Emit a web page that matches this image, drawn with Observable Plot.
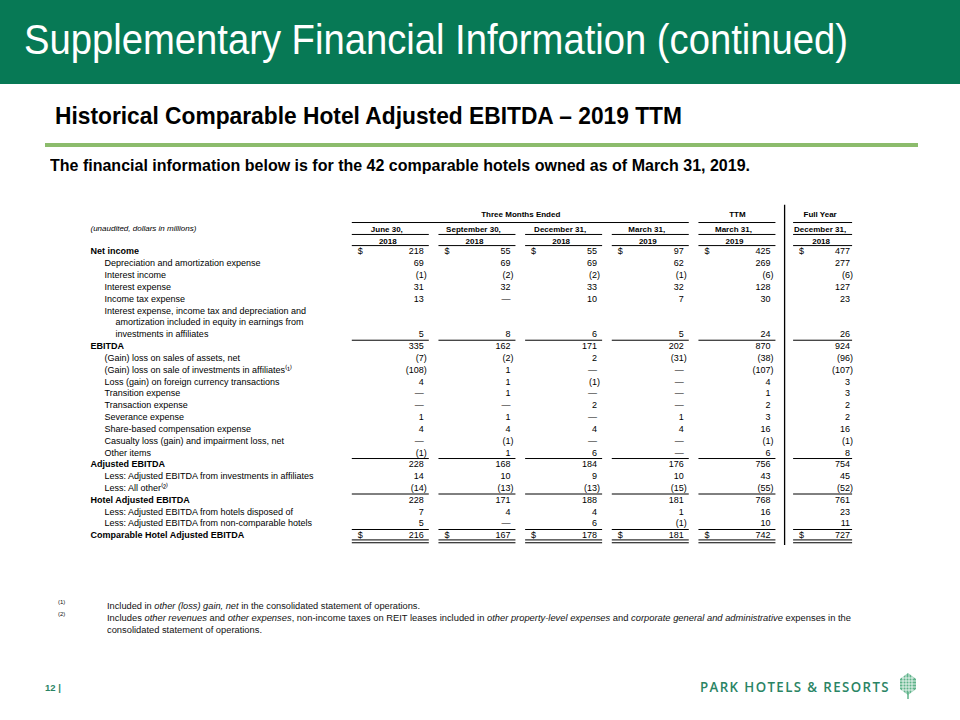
<!DOCTYPE html>
<html><head><meta charset="utf-8">
<script src="https://cdn.jsdelivr.net/npm/d3@7"></script>
<script src="https://cdn.jsdelivr.net/npm/@observablehq/plot@0.6"></script>
<style>
body{margin:0;width:960px;height:720px;position:relative;overflow:hidden;background:#fff;font-family:"Liberation Sans",Arial,sans-serif;color:#000;}
.abs{position:absolute;white-space:nowrap;transform-origin:0 50%;}
#band{left:0;top:0;width:960px;height:84px;background:#077955;}
#title{left:24px;top:16px;color:#fff;font-size:42px;line-height:48px;}
#subtitle{left:55px;top:102px;font-weight:bold;font-size:24px;line-height:28px;}
#rule{left:45px;top:143px;width:873px;height:4px;background:#8cbc6c;}
#desc{left:50px;top:156px;font-weight:bold;font-size:17px;line-height:20px;}
#chart{left:0;top:200px;}
.fn{font-size:8.5px;line-height:12px;color:#111;}
.fnm{font-size:6px;line-height:8px;color:#111;}
#page{left:45px;top:681px;font-size:9.5px;line-height:14px;font-weight:bold;color:#2a8464;}
#logo{left:700px;top:678px;font-family:"Open Sans","Liberation Sans",sans-serif;font-weight:600;font-size:14px;line-height:18px;color:#2a8464;letter-spacing:1.5px;}
#tree{left:898px;top:672px;}
</style></head>
<body>
<div id="band" class="abs"></div>
<div id="title" class="abs" data-w="824">Supplementary Financial Information (continued)</div>
<div id="subtitle" class="abs" data-w="627">Historical Comparable Hotel Adjusted EBITDA – 2019 TTM</div>
<div id="rule" class="abs"></div>
<div id="desc" class="abs" data-w="700">The financial information below is for the 42 comparable hotels owned as of March 31, 2019.</div>
<div id="chart" class="abs"></div>
<div class="abs fnm" style="left:58px;top:598px;">(1)</div>
<div class="abs fn" style="left:107px;top:600px;" data-w="313">Included in <i>other (loss) gain, net</i> in the consolidated statement of operations.</div>
<div class="abs fnm" style="left:58px;top:610px;">(2)</div>
<div class="abs fn" style="left:107px;top:612px;" data-w="744">Includes <i>other revenues</i> and <i>other expenses</i>, non-income taxes on REIT leases included in <i>other property-level expenses</i> and <i>corporate general and administrative</i> expenses in the</div>
<div class="abs fn" style="left:107px;top:624px;" data-w="155">consolidated statement of operations.</div>
<div id="page" class="abs">12 |</div>
<div id="logo" class="abs" data-w="190">PARK HOTELS &amp; RESORTS</div>
<svg id="tree" class="abs" width="20" height="28" viewBox="0 0 20 28">
  <polygon points="10,1 18,7 18,17 10,23 2,17 2,7" fill="#5fb38a"/>
  <g stroke="#fff" stroke-width="0.8">
    <line x1="2" y1="9" x2="18" y2="9"/><line x1="2" y1="12" x2="18" y2="12"/><line x1="2" y1="15" x2="18" y2="15"/><line x1="4" y1="6" x2="16" y2="6"/><line x1="4" y1="18" x2="16" y2="18"/>
    <line x1="5" y1="3" x2="5" y2="21"/><line x1="8" y1="1" x2="8" y2="23"/><line x1="11" y1="1" x2="11" y2="23"/><line x1="14" y1="3" x2="14" y2="21"/>
  </g>
  <line x1="10" y1="20" x2="10" y2="27" stroke="#5fb38a" stroke-width="1.5"/>
</svg>
<script>
// ---- data ----
const rowLabels = [
  "Net income",
  "Depreciation and amortization expense",
  "Interest income",
  "Interest expense",
  "Income tax expense",
  "Interest expense, income tax and depreciation and",
  "amortization included in equity in earnings from",
  "investments in affiliates",
  "EBITDA",
  "(Gain) loss on sales of assets, net",
  "(Gain) loss on sale of investments in affiliates⁽¹⁾",
  "Loss (gain) on foreign currency transactions",
  "Transition expense",
  "Transaction expense",
  "Severance expense",
  "Share-based compensation expense",
  "Casualty loss (gain) and impairment loss, net",
  "Other items",
  "Adjusted EBITDA",
  "Less: Adjusted EBITDA from investments in affiliates",
  "Less: All other⁽²⁾",
  "Hotel Adjusted EBITDA",
  "Less: Adjusted EBITDA from hotels disposed of",
  "Less: Adjusted EBITDA from non-comparable hotels",
  "Comparable Hotel Adjusted EBITDA"
];
const totalRows = ["Net income", "EBITDA", "Adjusted EBITDA", "Hotel Adjusted EBITDA", "Comparable Hotel Adjusted EBITDA"];
const wrappedRows = ["amortization included in equity in earnings from", "investments in affiliates"];
const labelOnlyRows = ["Interest expense, income tax and depreciation and", "amortization included in equity in earnings from"];
const dollarRows = ["Net income", "Comparable Hotel Adjusted EBITDA"];
const subtotalRows = ["EBITDA", "Adjusted EBITDA", "Hotel Adjusted EBITDA", "Comparable Hotel Adjusted EBITDA"];

const columns = ["June 30, 2018", "September 30, 2018", "December 31, 2018", "March 31, 2019", "TTM March 31, 2019", "Full Year December 31, 2018"];
const columnMonths = ["June 30,", "September 30,", "December 31,", "March 31,", "March 31,", "December 31,"];
const columnYears = ["2018", "2018", "2018", "2019", "2019", "2018"];
const groupLabels = ["Three Months Ended", "TTM", "Full Year"];
const unitsNote = "(unaudited, dollars in millions)";

const jun2018 = [218, 69, -1, 31, 13, 5, 335, -7, -108, 4, 0, 0, 1, 4, 0, -1, 228, 14, -14, 228, 7, 5, 216];
const sep2018 = [55, 69, -2, 32, 0, 8, 162, -2, 1, 1, 1, 0, 1, 4, -1, 1, 168, 10, -13, 171, 4, 0, 167];
const dec2018 = [55, 69, -2, 33, 10, 6, 171, 2, 0, -1, 0, 2, 0, 4, 0, 6, 184, 9, -13, 188, 4, 6, 178];
const mar2019 = [97, 62, -1, 32, 7, 5, 202, -31, 0, 0, 0, 0, 1, 4, 0, 0, 176, 10, -15, 181, 1, -1, 181];
const ttm2019 = [425, 269, -6, 128, 30, 24, 870, -38, -107, 4, 1, 2, 3, 16, -1, 6, 756, 43, -55, 768, 16, 10, 742];
const fy2018 = [477, 277, -6, 127, 23, 26, 924, -96, -107, 3, 3, 2, 2, 16, -1, 8, 754, 45, -52, 761, 23, 11, 727];
const columnValues = [jun2018, sep2018, dec2018, mar2019, ttm2019, fy2018];

// ---- derived tables ----
const valueRows = rowLabels.filter(r => !labelOnlyRows.includes(r));
const idx = r => rowLabels.indexOf(r);
const FY = columns[5];
const cells = columns.flatMap((c, ci) => columnValues[ci].map((v, ri) => ({col: c, row: valueRows[ri], v})));
const fmt = v => v === 0 ? "—" : v < 0 ? `(${-v})` : String(v);
const heads = columns.map((c, i) => ({col: c, month: columnMonths[i], year: columnYears[i]}));

// ---- layout ----
const step = 11.83, row0 = 51;
const hGroup = -3.12, hMonth = -1.86, hYear = -0.85;
const colStep = 86.66;
const fyInset = {insetLeft: 8, insetRight: 10};

const isFY = d => d.col === FY;
const notFY = d => d.col !== FY;
const numbers = (filter, dx) => Plot.text(cells.filter(filter), {x: "col", y: d => idx(d.row), text: d => fmt(d.v), textAnchor: "end", dx});
const lineCells = (rows) => cells.filter(d => rows.includes(d.row));

const chart = Plot.plot({
  width: 960, height: 360,
  marginTop: 0, marginBottom: 0, marginRight: 0, marginLeft: 90,
  style: {fontFamily: "'Liberation Sans', Arial, sans-serif", fontSize: "9px", color: "#000", background: "transparent", overflow: "visible"},
  x: {type: "band", domain: columns, range: [351.8, 862.1], paddingInner: 0.1115, paddingOuter: 0, round: false, axis: null},
  y: {type: "linear", domain: [-4, 26], range: [row0 - 4 * step, row0 + 26 * step], axis: null},
  marks: [
    // header texts
    Plot.text([groupLabels[0]], {x: () => columns[1], y: () => hGroup, text: d => d, dx: colStep / 2, fontWeight: "bold", fontSize: 8}),
    Plot.text([groupLabels[1]], {x: () => columns[4], y: () => hGroup, text: d => d, fontWeight: "bold", fontSize: 8}),
    Plot.text([groupLabels[2]], {x: () => FY, y: () => hGroup, text: d => d, dx: -4, fontWeight: "bold", fontSize: 8}),
    Plot.ruleY([groupLabels[0]], {x1: () => columns[0], x2: () => columns[3], y: () => hGroup + 0.67, stroke: "#000", strokeWidth: 1}),
    Plot.tickY([groupLabels[1]], {x: () => columns[4], y: () => hGroup + 0.67, stroke: "#000", strokeWidth: 1}),
    Plot.tickY([groupLabels[2]], {x: () => FY, y: () => hGroup + 0.67, stroke: "#000", strokeWidth: 1, ...fyInset}),
    Plot.text([unitsNote], {frameAnchor: "left", y: () => hMonth - 0.08, text: d => d, textAnchor: "start", fontStyle: "italic", fontSize: 8}),
    Plot.text(heads, {x: "col", y: () => hMonth, text: "month", dx: -4, fontWeight: "bold", fontSize: 8}),
    Plot.text(heads, {x: "col", y: () => hYear, text: "year", dx: -3, fontWeight: "bold", fontSize: 8}),
    Plot.tickY(heads.filter(notFY), {x: "col", y: () => hMonth + 0.42, stroke: "#000", strokeWidth: 1}),
    Plot.tickY(heads.filter(isFY), {x: "col", y: () => hMonth + 0.42, stroke: "#000", strokeWidth: 1, ...fyInset}),
    Plot.tickY(heads.filter(notFY), {x: "col", y: () => -0.5, stroke: "#000", strokeWidth: 1}),
    Plot.tickY(heads.filter(isFY), {x: "col", y: () => -0.5, stroke: "#000", strokeWidth: 1, ...fyInset}),
    // divider between TTM and full year
    Plot.ruleX([FY], {x: d => d, y1: () => -3.9, y2: () => 24.85, dx: -39.5, stroke: "#000", strokeWidth: 1.3}),
    // row labels
    Plot.text(rowLabels.filter(r => totalRows.includes(r)), {frameAnchor: "left", y: d => idx(d), text: d => d, textAnchor: "start", fontWeight: "bold"}),
    Plot.text(rowLabels.filter(r => !totalRows.includes(r) && !wrappedRows.includes(r)), {frameAnchor: "left", y: d => idx(d), text: d => d, textAnchor: "start", dx: 14}),
    Plot.text(wrappedRows, {frameAnchor: "left", y: d => idx(d), text: d => d, textAnchor: "start", dx: 25}),
    // values
    numbers(d => notFY(d) && d.v >= 0, 33),
    numbers(d => notFY(d) && d.v < 0, 36),
    numbers(d => isFY(d) && d.v >= 0, 26),
    numbers(d => isFY(d) && d.v < 0, 29),
    Plot.text(lineCells(dollarRows).filter(notFY), {x: "col", y: d => idx(d.row), text: () => "$", textAnchor: "start", dx: -33}),
    Plot.text(lineCells(dollarRows).filter(isFY), {x: "col", y: d => idx(d.row), text: () => "$", textAnchor: "start", dx: -25}),
    // subtotal rules
    Plot.tickY(lineCells(subtotalRows).filter(notFY), {x: "col", y: d => idx(d.row) - 0.5, stroke: "#000", strokeWidth: 1}),
    Plot.tickY(lineCells(subtotalRows).filter(isFY), {x: "col", y: d => idx(d.row) - 0.5, stroke: "#000", strokeWidth: 1, ...fyInset}),
    // double underline below final total
    Plot.tickY(lineCells([totalRows[4]]).filter(notFY), {x: "col", y: d => idx(d.row) + 0.38, stroke: "#000", strokeWidth: 1}),
    Plot.tickY(lineCells([totalRows[4]]).filter(isFY), {x: "col", y: d => idx(d.row) + 0.38, stroke: "#000", strokeWidth: 1, ...fyInset}),
    Plot.tickY(lineCells([totalRows[4]]).filter(notFY), {x: "col", y: d => idx(d.row) + 0.62, stroke: "#000", strokeWidth: 1}),
    Plot.tickY(lineCells([totalRows[4]]).filter(isFY), {x: "col", y: d => idx(d.row) + 0.62, stroke: "#000", strokeWidth: 1, ...fyInset})
  ]
});
document.getElementById("chart").appendChild(chart);

// fit HTML text runs to the slide's measured widths
document.querySelectorAll("[data-w]").forEach(el => {
  const w = el.getBoundingClientRect().width;
  if (w > 0) el.style.transform = `scaleX(${(+el.dataset.w) / w})`;
});
</script>
</body></html>
